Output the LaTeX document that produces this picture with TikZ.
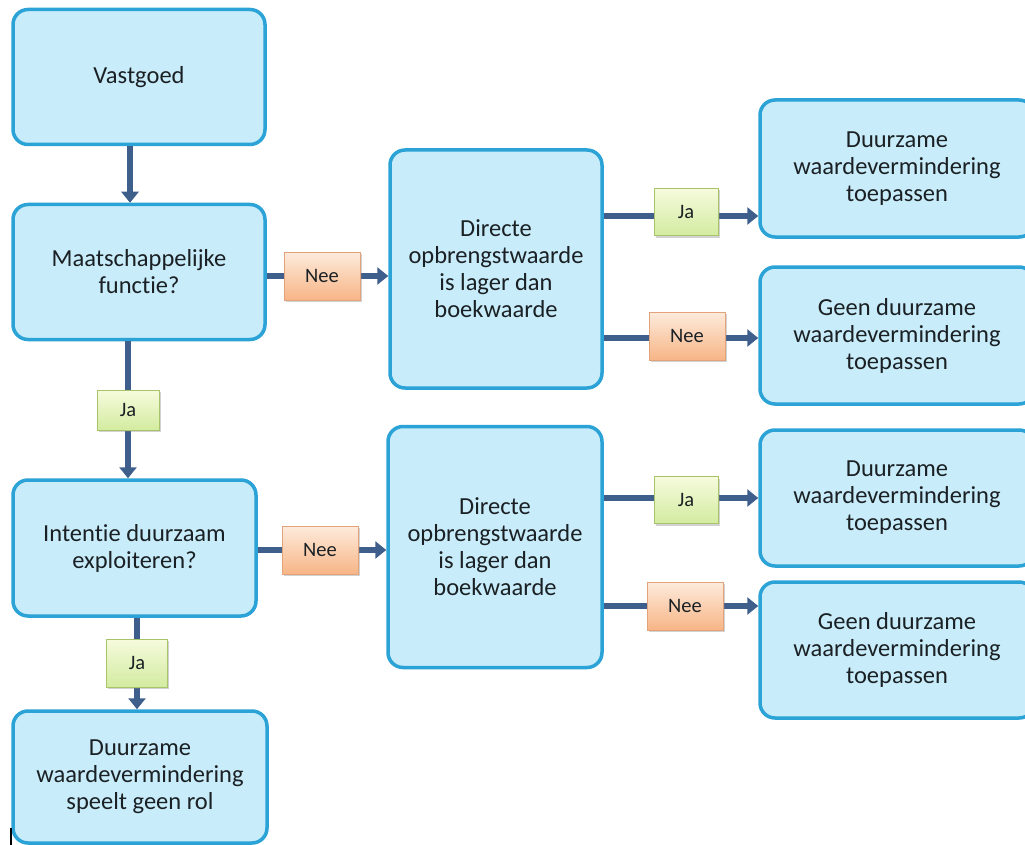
\documentclass[tikz,border=0pt]{standalone}
\usepackage{fontspec}
\setmainfont{Carlito}[Ligatures=NoCommon]
\usetikzlibrary{arrows.meta,shadows}
\definecolor{boxfill}{HTML}{C8ECF9}
\definecolor{boxline}{HTML}{2BA3D6}
\definecolor{arrcol}{HTML}{3E5E8C}
\definecolor{txt}{HTML}{1A2024}
\definecolor{jatop}{HTML}{F6FBDD}
\definecolor{jabot}{HTML}{D3EBA0}
\definecolor{jaline}{HTML}{A8C46A}
\definecolor{neetop}{HTML}{FDEBDC}
\definecolor{neebot}{HTML}{F7B586}
\definecolor{neeline}{HTML}{E2A27A}
\tikzset{
  mainbox/.style={draw=boxline, line width=3.5pt, fill=boxfill, rounded corners=15pt,
    align=center, text=txt, inner sep=0pt,
    font=\fontsize{24.5}{27}\selectfont},
  labelbase/.style={draw, line width=0.8pt, inner sep=0pt, text=txt,
    font=\fontsize{20.5}{23}\selectfont,
    drop shadow={shadow xshift=1.5pt, shadow yshift=-2pt, opacity=0.35}},
  jabox/.style={labelbase, draw=jaline, top color=jatop, bottom color=jabot,
    minimum width=64pt, minimum height=47pt},
  neebox/.style={labelbase, draw=neeline, top color=neetop, bottom color=neebot,
    minimum width=76pt, minimum height=48pt},
  arr/.style={draw=arrcol, line width=6.5pt, -{Triangle[length=11pt,width=17pt]}},
  seg/.style={draw=arrcol, line width=6.5pt}
}
\begin{document}
\begin{tikzpicture}[x=1pt, y=-1pt]
\useasboundingbox (0,0) rectangle (1025,845);
\clip (0,0) rectangle (1025,845);
\fill[white] (0,0) rectangle (1025,845);

% left column
\node[mainbox, minimum width=252pt, minimum height=135pt] (v) at (139,77) {Vastgoed};
\node[mainbox, minimum width=252pt, minimum height=135pt] (m) at (139,272) {Maatschappelijke\\functie?};
\node[mainbox, minimum width=243pt, minimum height=136pt] (i) at (134.5,548) {Intentie duurzaam\\exploiteren?};
\node[mainbox, minimum width=254pt, minimum height=132pt] (d) at (140,777) {Duurzame\\waardevermindering\\speelt geen rol};

% middle column
\node[mainbox, minimum width=212pt, minimum height=238pt] (o1) at (496,269) {Directe\\opbrengstwaarde\\is lager dan\\boekwaarde};
\node[mainbox, minimum width=214pt, minimum height=241pt] (o2) at (495,547) {Directe\\opbrengstwaarde\\is lager dan\\boekwaarde};

% right column
\node[mainbox, minimum width=274pt, minimum height=137pt] (r1) at (897,168.5) {Duurzame\\waardevermindering\\toepassen};
\node[mainbox, minimum width=274pt, minimum height=137pt] (r2) at (897,335.5) {Geen duurzame\\waardevermindering\\toepassen};
\node[mainbox, minimum width=274pt, minimum height=136pt] (r3) at (897,498) {Duurzame\\waardevermindering\\toepassen};
\node[mainbox, minimum width=274pt, minimum height=136pt] (r4) at (897,650) {Geen duurzame\\waardevermindering\\toepassen};

% label positions
\coordinate (n1) at (322,276);
\coordinate (j1) at (686,212);
\coordinate (n2) at (687,336);
\coordinate (j2) at (128,410);
\coordinate (n3) at (320,550);
\coordinate (j3) at (686,500);
\coordinate (n4) at (685,606);
\coordinate (j4) at (137,663);

% vertical connectors
\draw[arr] ([xshift=-9pt]v.south) -- ([xshift=-9pt]m.north);
\draw[arr] (m.south -| j2) -- (i.north -| j2);
\draw[arr] (i.south -| j4) -- (d.north -| j4);

% horizontal connectors
\draw[arr] (m.east |- n1) -- (o1.west |- n1);
\draw[arr] ([yshift=-4pt]o1.east |- j1) -- ([yshift=-4pt]r1.west |- j1);
\draw[arr] ([yshift=-2pt]o1.east |- n2) -- ([yshift=-2pt]r2.west |- n2);
\draw[arr] (i.east |- n3) -- (o2.west |- n3);
\draw[arr] ([yshift=2pt]o2.east |- j3) -- ([yshift=2pt]r3.west |- j3);
\draw[arr] (o2.east |- n4) -- (r4.west |- n4);

% label boxes on top of the connectors
\node[neebox] (ln1) at (n1) {Nee};
\node[jabox] (lj1) at (j1) {Ja};
\node[neebox] (ln2) at (n2) {Nee};
\node[jabox, minimum width=62pt, minimum height=40pt] (lj2) at (j2) {Ja};
\node[neebox] (ln3) at (n3) {Nee};
\node[jabox] (lj3) at (j3) {Ja};
\node[neebox] (ln4) at (n4) {Nee};
\node[jabox, minimum width=61pt, minimum height=48pt] (lj4) at (j4) {Ja};

% small cursor mark at the bottom left
\draw[black, line width=1.5pt] (11,828) -- (11,845);
\end{tikzpicture}
\end{document}
